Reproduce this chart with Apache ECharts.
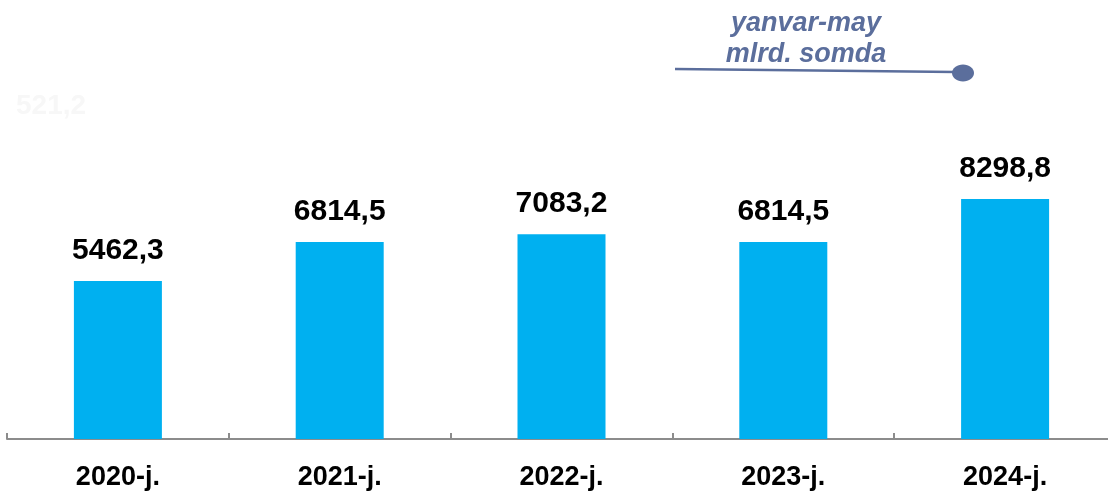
<!DOCTYPE html>
<html>
<head>
<meta charset="utf-8">
<script src="https://cdn.jsdelivr.net/npm/echarts@6/dist/echarts.min.js"></script>
<style>
html,body{margin:0;padding:0;background:#fff;overflow:hidden;}
#c{width:1116px;height:491px;}
</style>
</head>
<body>
<div id="c"></div>
<script>
const categories = ['2020-j.', '2021-j.', '2022-j.', '2023-j.', '2024-j.'];
const values = [5462.3, 6814.5, 7083.2, 6814.5, 8298.8];
const noteLines = ['yanvar-may', 'mlrd. somda'];
const ghostLabel = '521,2';

const chart = echarts.init(document.getElementById('c'), null, {renderer: 'canvas'});
chart.setOption({
  animation: false,
  backgroundColor: '#ffffff',
  grid: {left: 7, top: 92, right: 0, height: 347, containLabel: false},
  xAxis: {
    type: 'category',
    data: categories,
    axisLine: {lineStyle: {color: '#8c8c8c', width: 2}},
    axisTick: {show: true, inside: true, length: 6, lineStyle: {color: '#8c8c8c', width: 2}},
    axisLabel: {color: '#000', fontFamily: 'Liberation Sans, Arial, sans-serif', fontWeight: 'bold', fontSize: 27, margin: 25}
  },
  yAxis: {
    type: 'value', min: 0, max: 12000,
    show: false, splitLine: {show: false}
  },
  series: [{
    type: 'bar',
    data: values,
    barWidth: 88,
    itemStyle: {color: '#00b0f0'},
    label: {
      show: true, position: 'top', distance: 15,
      color: '#000', fontFamily: 'Liberation Sans, Arial, sans-serif', fontWeight: 'bold', fontSize: 30,
      formatter: p => p.value.toFixed(1).replace('.', ',')
    }
  }],
  graphic: [
    {type: 'text', left: 16, top: 92, style: {text: ghostLabel, fill: '#f7f7f7', font: 'bold 28px "Liberation Sans", Arial, sans-serif'}},
    {type: 'text', x: 806, y: 24, style: {text: noteLines[0], fill: '#5b6e9c', align: 'center', verticalAlign: 'middle', font: 'italic bold 27px "Liberation Sans", Arial, sans-serif'}},
    {type: 'text', x: 806, y: 55, style: {text: noteLines[1], fill: '#5b6e9c', align: 'center', verticalAlign: 'middle', font: 'italic bold 27px "Liberation Sans", Arial, sans-serif'}},
    {type: 'line', shape: {x1: 675, y1: 69, x2: 955, y2: 72}, style: {stroke: '#5b6e9c', lineWidth: 2.5}},
    {type: 'ellipse', shape: {cx: 963, cy: 73, rx: 11, ry: 8.5}, style: {fill: '#5b6e9c'}}
  ]
});
</script>
</body>
</html>
